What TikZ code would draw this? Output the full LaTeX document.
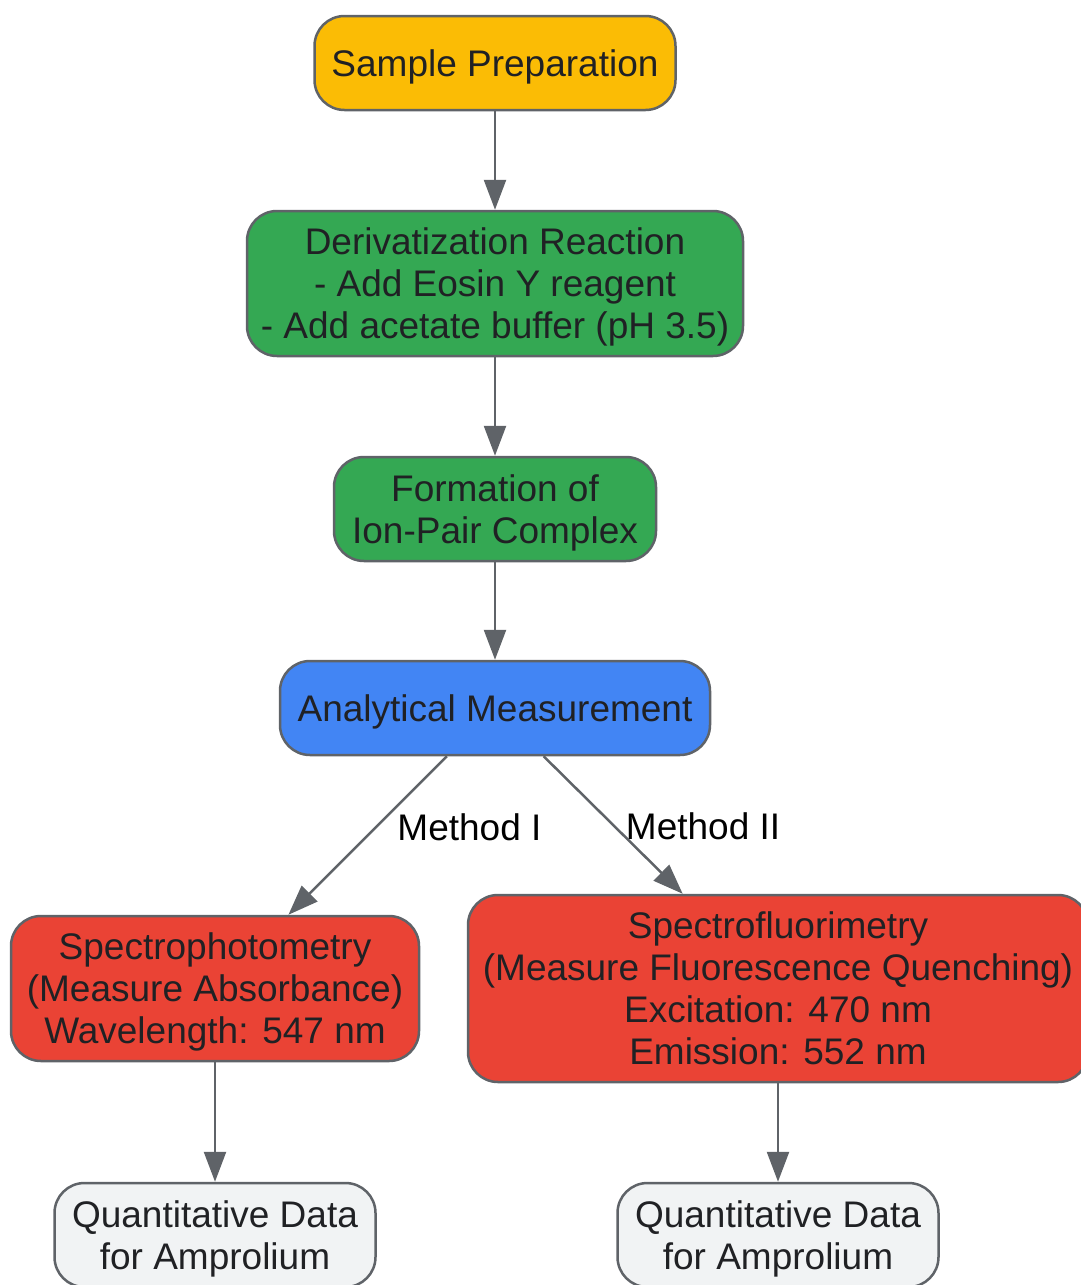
\documentclass[tikz,border=0pt]{standalone}
\usepackage{fontspec}
\setmainfont{Liberation Sans}
\usepackage{xcolor}
\usetikzlibrary{arrows.meta}
\definecolor{gyellow}{HTML}{FBBC05}
\definecolor{ggreen}{HTML}{34A853}
\definecolor{gblue}{HTML}{4285F4}
\definecolor{gred}{HTML}{EA4335}
\definecolor{glight}{HTML}{F1F3F4}
\definecolor{gedge}{HTML}{5F6368}
\definecolor{gtext}{HTML}{202124}
\tikzset{
 box/.style={draw=gedge, line width=2.5pt, rounded corners=30pt, align=center, text=gtext, inner sep=4pt, text depth=0pt, font=\fontsize{37pt}{42pt}\selectfont},
 flow/.style={draw=gedge, line width=2.5pt, -{Triangle[length=30pt,width=22pt]}},
 lbl/.style={text=black, inner sep=0pt, font=\fontsize{37pt}{42pt}\selectfont}
}

\begin{document}
\begin{tikzpicture}[x=1pt,y=-1pt]
\useasboundingbox (0,0) rectangle (1081,1285);
\node[box, fill=gyellow, minimum width=361pt, minimum height=94pt] (prep) at (495,63) {Sample Preparation};
\node[box, fill=ggreen, minimum width=496pt, minimum height=145pt] (deriv) at (495,283.5) {Derivatization Reaction\\- Add Eosin Y reagent\\- Add acetate buffer (pH 3.5)};
\node[box, fill=ggreen, minimum width=322pt, minimum height=104pt] (ionpair) at (495,509) {Formation of\\Ion-Pair Complex};
\node[box, fill=gblue, minimum width=430pt, minimum height=94pt] (meas) at (495,708) {Analytical Measurement};
\node[box, fill=gred, minimum width=408pt, minimum height=145pt] (sphoto) at (215,988.5) {Spectrophotometry\\(Measure Absorbance)\\Wavelength: 547 nm};
\node[box, fill=gred, minimum width=620pt, minimum height=187pt] (sfluor) at (778,988.5) {Spectrofluorimetry\\(Measure Fluorescence Quenching)\\Excitation: 470 nm\\Emission: 552 nm};
\node[box, fill=glight, minimum width=321pt, minimum height=104pt] (dataA) at (215,1235) {Quantitative Data\\for Amprolium};
\node[box, fill=glight, minimum width=321pt, minimum height=104pt] (dataB) at (778,1235) {Quantitative Data\\for Amprolium};

\draw[flow] (prep) -- (deriv);
\draw[flow] (deriv) -- (ionpair);
\draw[flow] (ionpair) -- (meas);
\draw[flow] (meas) -- node[lbl, pos=0.446, right=20pt] {Method I} (sphoto);
\draw[flow] (meas) -- node[lbl, pos=0.511, right=10pt] {Method II} (sfluor);
\draw[flow] (sphoto) -- (dataA);
\draw[flow] (sfluor) -- (dataB);
\end{tikzpicture}
\end{document}
